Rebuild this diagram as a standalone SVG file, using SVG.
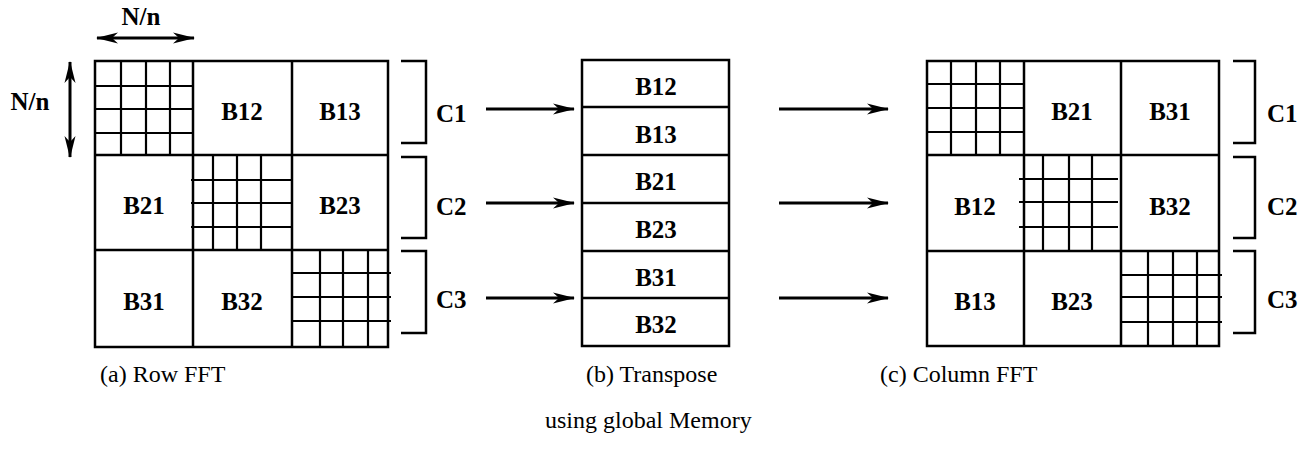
<svg xmlns="http://www.w3.org/2000/svg" width="1314" height="463" viewBox="0 0 1314 463">
<defs>
<marker id="ah" markerUnits="userSpaceOnUse" markerWidth="22" markerHeight="12" refX="21" refY="6" orient="auto-start-reverse" viewBox="0 0 22 12">
<path d="M0,0.5 L22,6 L0,11.5 L6,6 Z" fill="#000"/>
</marker>
</defs>
<style>
.box{fill:#fff;stroke:#000;stroke-width:2.5}
.ln{stroke:#000;stroke-width:2.5;fill:none}
.ar{stroke:#000;stroke-width:3;fill:none}
.gr{stroke:#000;stroke-width:2.2;fill:none}
.lb{font-family:"Liberation Serif",serif;font-size:25px;font-weight:bold;text-anchor:middle;fill:#000}
.cl{font-family:"Liberation Serif",serif;font-size:25px;font-weight:bold;fill:#000}
.cap{font-family:"Liberation Serif",serif;font-size:24px;fill:#000}
</style>
<rect width="1314" height="463" fill="#fff"/>

<!-- (a) Row FFT matrix -->
<g id="matrix-a">
  <rect class="box" x="95" y="61" width="293" height="286"/>
  <path class="ln" d="M193,61V347M292,61V347M95,155H388M95,250H388"/>
  <g id="a-B11"><path class="gr" d="M121,61V155M146,61V155M170,61V155M95,86H193M95,109H193M95,133H193"/></g>
  <g id="a-B12"><text class="lb" x="242" y="120">B12</text></g>
  <g id="a-B13"><text class="lb" x="340" y="120">B13</text></g>
  <g id="a-B21"><text class="lb" x="144" y="214">B21</text></g>
  <g id="a-B22"><path class="gr" d="M213,155V250M237,155V250M261,155V250M191,180H292M191,203H292M191,227H292"/></g>
  <g id="a-B23"><text class="lb" x="340" y="214">B23</text></g>
  <g id="a-B31"><text class="lb" x="144" y="310">B31</text></g>
  <g id="a-B32"><text class="lb" x="242" y="310">B32</text></g>
  <g id="a-B33"><path class="gr" d="M320,250V347M343,250V347M368,250V347M292,273H391M292,297H391M292,321H391"/></g>
</g>

<!-- dimension labels -->
<g id="dim-top">
  <line class="ar" x1="97" y1="38" x2="194" y2="38" marker-start="url(#ah)" marker-end="url(#ah)"/>
  <text class="cl" x="141" y="25" text-anchor="middle">N/n</text>
</g>
<g id="dim-left">
  <line class="ar" x1="70" y1="62" x2="70" y2="157" marker-start="url(#ah)" marker-end="url(#ah)"/>
  <text class="cl" x="30" y="110" text-anchor="middle">N/n</text>
</g>

<!-- left brackets -->
<g id="brackets-a">
  <path class="ln" d="M401,61H426V143H401M401,157H426V238H401M401,251H426V333H401"/>
  <text class="cl" x="436" y="122">C1</text>
  <text class="cl" x="436" y="215">C2</text>
  <text class="cl" x="436" y="308">C3</text>
</g>

<!-- (b) transpose column -->
<g id="column-b">
  <rect class="box" x="582" y="60" width="147" height="286"/>
  <path class="ln" d="M582,107H729M582,155H729M582,203H729M582,251H729M582,298H729"/>
  <g id="b-B12"><text class="lb" x="656" y="95">B12</text></g>
  <g id="b-B13"><text class="lb" x="656" y="143">B13</text></g>
  <g id="b-B21"><text class="lb" x="656" y="190">B21</text></g>
  <g id="b-B23"><text class="lb" x="656" y="238">B23</text></g>
  <g id="b-B31"><text class="lb" x="656" y="286">B31</text></g>
  <g id="b-B32"><text class="lb" x="656" y="333">B32</text></g>
</g>

<!-- (c) Column FFT matrix -->
<g id="matrix-c">
  <rect class="box" x="927" y="61" width="292" height="285"/>
  <path class="ln" d="M1024,61V346M1121,61V346M927,155H1219M927,251H1219"/>
  <g id="c-B11"><path class="gr" d="M951,61V155M976,61V155M1000,61V155M927,84H1024M927,108H1024M927,132H1024"/></g>
  <g id="c-B21"><text class="lb" x="1072" y="120">B21</text></g>
  <g id="c-B31"><text class="lb" x="1170" y="120">B31</text></g>
  <g id="c-B12"><text class="lb" x="975" y="215">B12</text></g>
  <g id="c-B22"><path class="gr" d="M1043,155V251M1069,155V251M1092,155V251M1019,179H1118M1019,202H1118M1019,227H1118"/></g>
  <g id="c-B32"><text class="lb" x="1170" y="215">B32</text></g>
  <g id="c-B13"><text class="lb" x="975" y="310">B13</text></g>
  <g id="c-B23"><text class="lb" x="1072" y="310">B23</text></g>
  <g id="c-B33"><path class="gr" d="M1148,251V346M1173,251V346M1197,251V346M1121,275H1222M1121,297H1222M1121,322H1222"/></g>
</g>

<!-- right brackets -->
<g id="brackets-c">
  <path class="ln" d="M1233,61H1255V143H1233M1233,157H1255V238H1233M1233,251H1255V333H1233"/>
  <text class="cl" x="1267" y="122">C1</text>
  <text class="cl" x="1267" y="215">C2</text>
  <text class="cl" x="1267" y="308">C3</text>
</g>

<!-- connectors -->
<g id="connectors">
  <line class="ar" x1="486" y1="109" x2="574" y2="109" marker-end="url(#ah)"/>
  <line class="ar" x1="486" y1="203" x2="574" y2="203" marker-end="url(#ah)"/>
  <line class="ar" x1="486" y1="298" x2="574" y2="298" marker-end="url(#ah)"/>
  <line class="ar" x1="779" y1="109" x2="888" y2="109" marker-end="url(#ah)"/>
  <line class="ar" x1="779" y1="203" x2="888" y2="203" marker-end="url(#ah)"/>
  <line class="ar" x1="779" y1="298" x2="888" y2="298" marker-end="url(#ah)"/>
</g>

<!-- captions -->
<g id="captions">
  <text class="cap" x="100" y="382">(a) Row FFT</text>
  <text class="cap" x="586" y="382">(b) Transpose</text>
  <text class="cap" x="545" y="428">using global Memory</text>
  <text class="cap" x="880" y="382">(c) Column FFT</text>
</g>
</svg>
